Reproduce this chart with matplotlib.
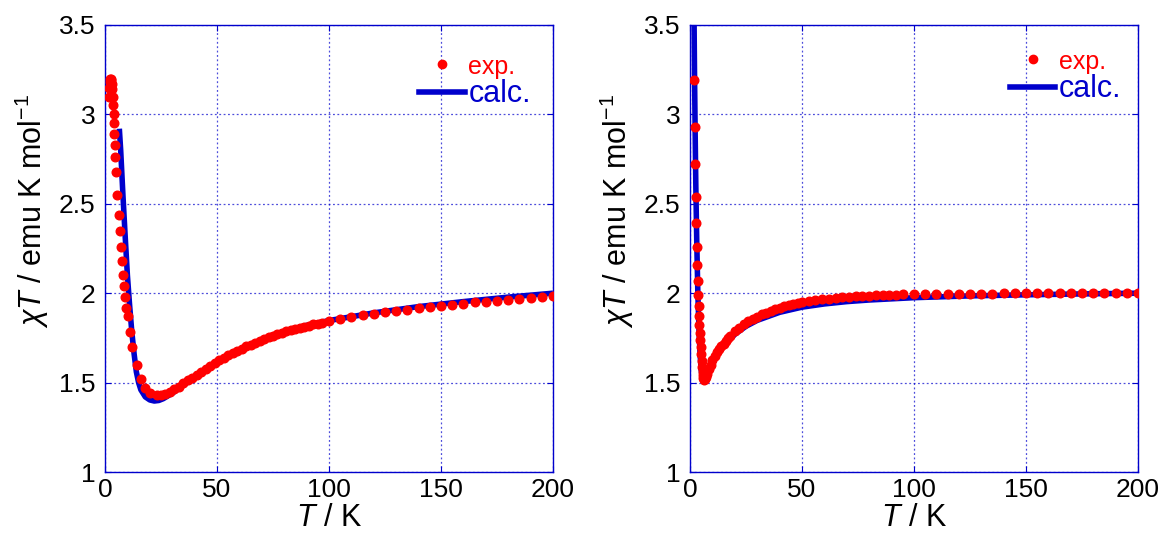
import numpy as np
import matplotlib
matplotlib.use('Agg')
import matplotlib.pyplot as plt
from matplotlib.lines import Line2D

plt.rcParams['font.family'] = ['Liberation Sans', 'DejaVu Sans']
plt.rcParams['mathtext.fontset'] = 'custom'
plt.rcParams['mathtext.rm'] = 'Liberation Sans'
plt.rcParams['mathtext.it'] = 'Liberation Sans:italic'

# left panel, experimental
t_exp_a = [1.8, 2.0, 2.2, 2.4, 2.6, 2.8, 3.0, 3.2, 3.4, 3.6, 3.8, 4.0, 4.2, 4.4, 4.6, 4.8,
           5.3, 6.1, 6.6, 7.0, 7.6, 7.9, 8.5, 9.1, 9.5, 10.1, 11.0, 12.0, 14.1, 15.9, 17.8, 20.1,
           23, 25, 27, 29, 31, 33, 35, 37, 39, 41, 43, 45, 47, 49, 51, 53, 55, 57, 59, 61,
           63, 65, 67, 69, 71, 73, 75, 77, 79, 81, 83, 85, 87, 89, 91, 93, 95, 97, 100,
           105, 110, 115, 120, 125, 130, 135, 140, 145, 150, 155, 160, 165, 170, 175,
           180, 185, 190, 195, 200]
chi_exp_a = [3.10, 3.15, 3.18, 3.20, 3.20, 3.19, 3.17, 3.14, 3.10, 3.05, 3.00, 2.95, 2.89, 2.83, 2.76, 2.68,
             2.55, 2.44, 2.35, 2.26, 2.18, 2.10, 2.04, 1.977, 1.92, 1.87, 1.785, 1.70, 1.60, 1.52, 1.468, 1.44,
             1.428, 1.430, 1.437, 1.447, 1.462, 1.478, 1.495, 1.512, 1.528, 1.545, 1.562, 1.578, 1.594, 1.609,
             1.624, 1.638, 1.652, 1.665, 1.678, 1.690, 1.702, 1.713, 1.724, 1.734, 1.744, 1.753, 1.762, 1.770,
             1.778, 1.786, 1.793, 1.800, 1.807, 1.813, 1.819, 1.825, 1.830, 1.836, 1.846,
             1.857, 1.867, 1.876, 1.885, 1.893, 1.901, 1.908, 1.915, 1.922, 1.930, 1.936, 1.942, 1.948,
             1.953, 1.958, 1.963, 1.968, 1.973, 1.978, 1.983]

# left panel, calculated
t_calc_a = [6.4, 7, 8, 9, 10, 11, 12, 13, 14, 15, 16, 18, 20, 22, 24, 26, 30, 35, 40, 50,
            60, 70, 80, 90, 100, 120, 140, 160, 180, 200]
chi_calc_a = [2.92, 2.80, 2.55, 2.32, 2.10, 1.93, 1.78, 1.66, 1.56, 1.50, 1.46, 1.42, 1.403, 1.397,
              1.40, 1.41, 1.44, 1.485, 1.53, 1.61, 1.68, 1.74, 1.785, 1.82, 1.847, 1.89, 1.925,
              1.953, 1.978, 2.0]

# right panel, experimental
t_exp_b = [2.0, 2.2, 2.4, 2.6, 2.8, 3.0, 3.2, 3.4, 3.6, 3.8, 4.0, 4.2, 4.4, 4.6, 4.8, 5.0,
           5.2, 5.4, 5.6, 5.8, 6.0, 6.3, 6.7, 7.2, 7.8, 8.5, 9.2, 10, 11, 12, 13, 14, 15,
           16, 17, 18, 20, 22, 24, 26, 28, 30, 32, 34, 36, 38, 40, 42, 44, 46, 48, 50,
           53, 56, 59, 62, 65, 68, 71, 74, 77, 80, 83, 86, 89, 92, 95, 100,
           105, 110, 115, 120, 125, 130, 135, 140, 145, 150, 155, 160, 165, 170, 175,
           180, 185, 190, 195, 200]
chi_exp_b = [3.19, 2.93, 2.72, 2.54, 2.39, 2.26, 2.16, 2.07, 1.99, 1.93, 1.87, 1.82, 1.78, 1.74,
             1.70, 1.66, 1.62, 1.59, 1.56, 1.54, 1.525, 1.515, 1.518, 1.53, 1.55, 1.575, 1.60,
             1.627, 1.65, 1.67, 1.687, 1.703, 1.718, 1.733, 1.748, 1.762, 1.787, 1.808, 1.826,
             1.842, 1.856, 1.869, 1.881, 1.892, 1.902, 1.911, 1.919, 1.926, 1.932, 1.938, 1.943,
             1.948, 1.954, 1.960, 1.965, 1.969, 1.973, 1.976, 1.979, 1.982, 1.984, 1.986, 1.988,
             1.990, 1.991, 1.992, 1.993, 1.995,
             1.996, 1.996, 1.997, 1.997, 1.998, 1.998, 1.998, 1.999, 1.999, 1.999, 2.000, 2.000,
             2.000, 2.000, 2.001, 2.001, 2.001, 2.001, 2.002, 2.002]

# right panel, calculated
t_calc_b = [1.8, 2.0, 2.3, 2.6, 3.0, 3.5, 4.0, 4.5, 5.0, 5.5, 6.0, 7, 8, 10, 12, 15, 20, 25,
            30, 40, 50, 60, 70, 80, 100, 125, 150, 175, 200]
chi_calc_b = [3.55, 3.25, 2.90, 2.60, 2.30, 2.00, 1.80, 1.66, 1.57, 1.53, 1.515, 1.525, 1.55,
              1.605, 1.65, 1.705, 1.77, 1.815, 1.848, 1.893, 1.922, 1.940, 1.953, 1.962,
              1.975, 1.985, 1.991, 1.996, 2.0]

xticks = [0, 50, 100, 150, 200]
yticks = [1, 1.5, 2, 2.5, 3, 3.5]
ytick_labels = ['1', '1.5', '2', '2.5', '3', '3.5']

blue = '#0000cc'
red = '#ff0000'

fig = plt.figure(figsize=(11.6, 5.34), dpi=100)
ax1 = fig.add_axes([105 / 1160, 62 / 534, 448 / 1160, 447 / 534])
ax2 = fig.add_axes([690 / 1160, 62 / 534, 448 / 1160, 447 / 534])

panels = [(ax1, t_exp_a, chi_exp_a, t_calc_a, chi_calc_a, (0.988, 0.972)),
          (ax2, t_exp_b, chi_exp_b, t_calc_b, chi_calc_b, (1.0, 0.982))]

for ax, te, ce, tc, cc, anchor in panels:
    ax.plot(tc, cc, color=blue, lw=4, solid_capstyle='butt', zorder=2)
    ax.plot(te, ce, 'o', color=red, ms=6.2, mec=red, zorder=3)
    ax.set_xlim(0, 200)
    ax.set_ylim(1, 3.5)
    ax.set_xticks(xticks)
    ax.set_yticks(yticks)
    ax.set_yticklabels(ytick_labels)
    ax.grid(True, color=blue, alpha=0.7, linestyle=(0, (1.5, 2)), lw=0.9)
    for s in ax.spines.values():
        s.set_color(blue)
        s.set_linewidth(1.0)
    ax.tick_params(direction='in', top=True, right=True, color=blue, length=4,
                   labelsize=19, labelcolor='black')
    ax.tick_params(axis='x', pad=4)
    ax.tick_params(axis='y', pad=7)
    ax.set_xlabel(r'$T$ / K', fontsize=22, labelpad=1)
    ax.set_ylabel(r'$\chi T$ / emu K mol$^{-1}$', fontsize=22)
    ax.yaxis.set_label_coords(-0.12, 0.585)

    handles = [Line2D([], [], ls='none', marker='o', color=red, ms=6),
               Line2D([], [], color=blue, lw=4)]
    leg = ax.legend(handles, ['exp.', 'calc.'], loc='upper right', frameon=False,
                    handlelength=1.65, handletextpad=0.12, labelspacing=0.0,
                    borderaxespad=0.2, fontsize=20, bbox_to_anchor=anchor)
    t1, t2 = leg.get_texts()
    t1.set_color(red)
    t1.set_fontsize(18)
    t2.set_color(blue)
    t2.set_fontsize(22)

fig.savefig('out.png', dpi=100)
